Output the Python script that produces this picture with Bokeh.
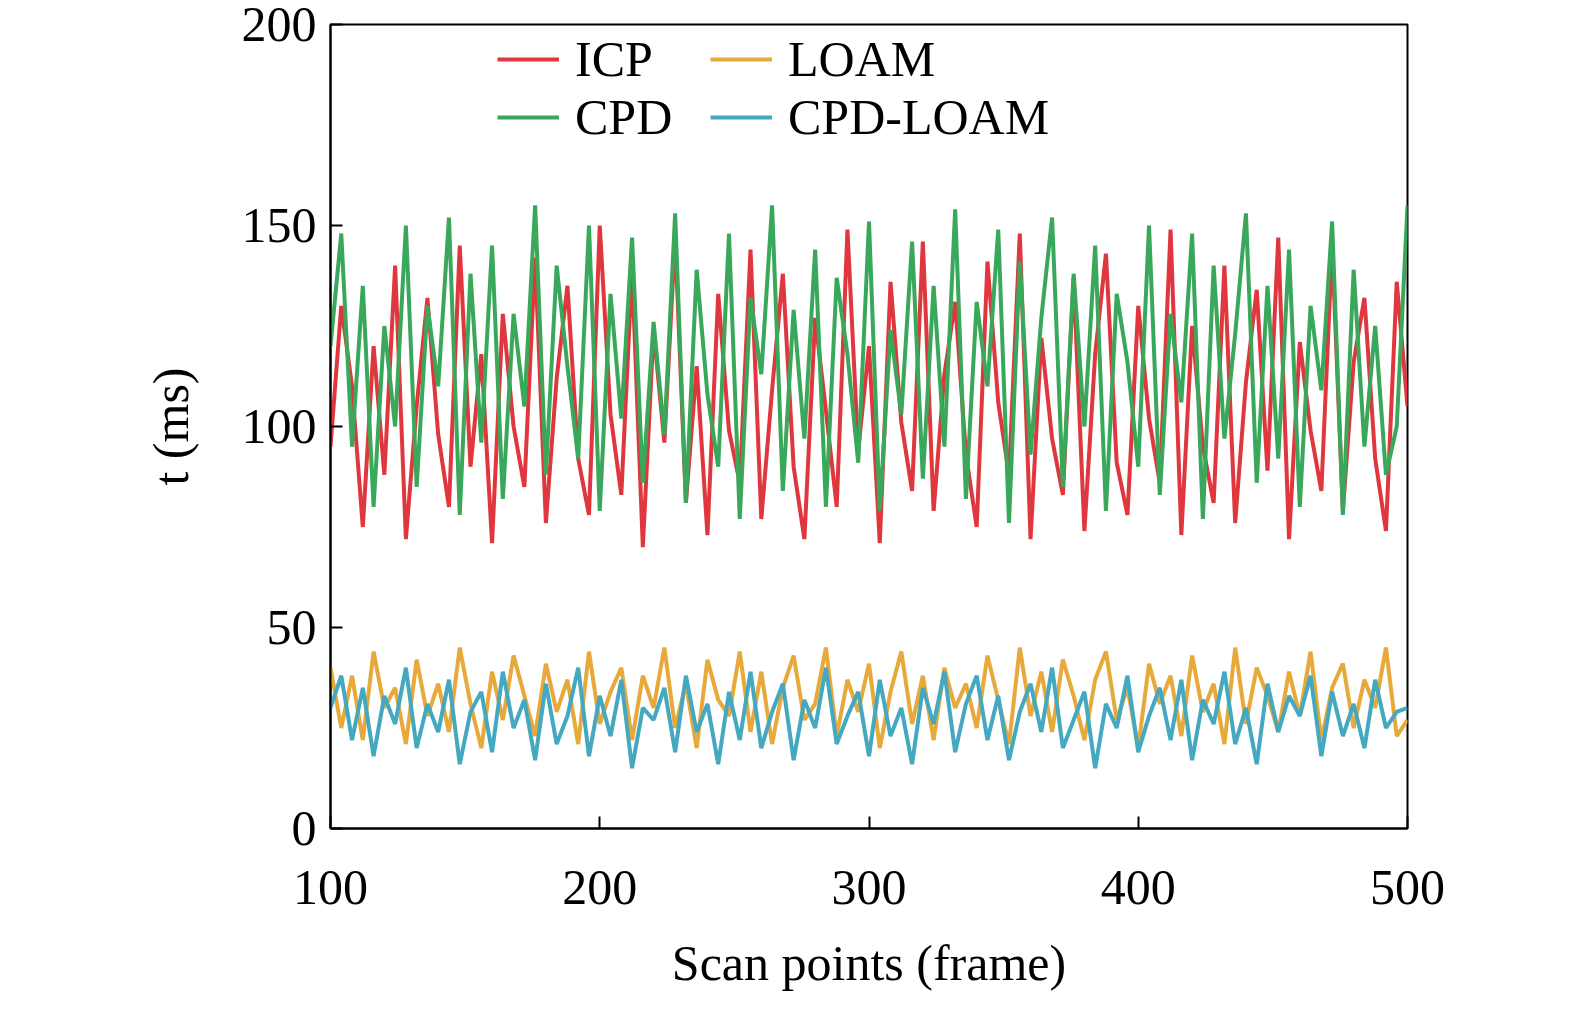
from bokeh.plotting import figure
from bokeh.models import Legend, LegendItem, Range1d, FixedTicker
from bokeh.embed import file_html
from bokeh.resources import INLINE

frames = list(range(100, 501, 4))
icp = [95,130,110,75,120,88,140,72,105,132,
       98,80,145,90,118,71,128,100,85,142,
       76,112,135,92,78,150,103,83,139,70,
       124,96,147,81,115,73,133,99,86,144,
       77,109,138,90,72,127,104,80,149,94,
       120,71,136,101,84,146,79,113,131,93,
       75,141,106,88,148,72,122,97,83,137,
       74,118,143,91,78,130,102,86,149,73,
       125,95,81,140,76,111,134,89,147,72,
       121,99,84,145,79,116,132,92,74,136,105]
cpd = [120,148,95,135,80,125,100,150,85,130,
       110,152,78,138,96,145,82,128,105,155,
       88,140,115,92,150,79,133,102,147,86,
       126,98,153,81,139,108,90,148,77,132,
       113,155,84,129,97,144,80,137,118,91,
       151,79,124,103,146,87,135,95,154,82,
       131,110,149,76,141,93,127,152,85,138,
       100,145,79,133,116,90,150,83,128,106,
       148,77,140,97,123,153,86,135,92,144,
       80,130,109,151,78,139,95,125,88,100,155]
loam = [40,25,38,22,44,30,35,21,42,28,
        36,24,45,31,20,39,27,43,33,23,
        41,29,37,21,44,26,34,40,22,38,
        30,45,25,36,20,42,32,28,44,24,
        39,21,35,43,27,31,45,23,37,29,
        41,20,34,44,26,38,22,40,30,36,
        25,43,32,21,45,28,39,24,42,33,
        22,37,44,27,35,20,41,31,38,23,
        43,29,36,21,45,26,40,33,24,39,
        28,44,22,35,41,25,37,30,45,23,27]
cpdloam = [30,38,22,35,18,33,26,40,20,31,
           24,37,16,29,34,19,39,25,32,17,
           36,21,28,40,18,33,23,37,15,30,
           27,35,19,38,24,31,16,34,22,39,
           20,29,36,17,32,25,40,21,28,34,
           18,37,23,30,16,35,26,39,19,31,
           38,22,33,17,29,36,24,40,20,27,
           34,15,31,25,38,19,28,35,22,37,
           17,32,26,39,21,30,16,36,24,33,
           28,38,18,34,23,31,20,37,25,29,30]

FONT = "Liberation Serif"
p = figure(width=1545, height=1000, output_backend="svg", toolbar_location=None,
           x_range=Range1d(100, 500), y_range=Range1d(0, 200),
           min_border_left=330, min_border_right=138, min_border_top=24, min_border_bottom=172)
p.grid.visible = False
p.outline_line_color = "black"
p.outline_line_width = 2

r_icp = p.line(frames, icp, line_color="#e0363e", line_width=4)
r_cpd = p.line(frames, cpd, line_color="#3aa85a", line_width=4)
r_loam = p.line(frames, loam, line_color="#e6a93a", line_width=4)
r_cl = p.line(frames, cpdloam, line_color="#44a8c0", line_width=4)

for ax in (p.xaxis[0], p.yaxis[0]):
    ax.major_label_text_font = FONT
    ax.major_label_text_font_size = "50px"
    ax.major_label_text_color = "black"
    ax.axis_label_text_font = FONT
    ax.axis_label_text_font_size = "50px"
    ax.axis_label_text_font_style = "normal"
    ax.axis_label_text_color = "black"
    ax.major_tick_in = 12
    ax.major_tick_out = 0
    ax.minor_tick_line_color = None
    ax.axis_line_width = 2
    ax.major_tick_line_width = 2
p.xaxis.ticker = FixedTicker(ticks=[100, 200, 300, 400, 500])
p.yaxis.ticker = FixedTicker(ticks=[0, 50, 100, 150, 200])
p.xaxis.axis_label = "Scan points (frame)"
p.yaxis.axis_label = "t (ms)"
p.xaxis.major_label_standoff = 42
p.xaxis.axis_label_standoff = 28
p.yaxis.major_label_standoff = 14
p.yaxis.axis_label_standoff = 40

legend = Legend(items=[LegendItem(label="ICP", renderers=[r_icp]),
                       LegendItem(label="CPD", renderers=[r_cpd]),
                       LegendItem(label="LOAM", renderers=[r_loam]),
                       LegendItem(label="CPD-LOAM", renderers=[r_cl])],
                ncols=2, location=(167, 682), orientation="vertical",
                label_text_font=FONT, label_text_font_size="50px", label_text_color="black",
                glyph_width=62, glyph_height=46, label_height=46, label_width=135, spacing=0,
                label_standoff=16, border_line_color=None, background_fill_alpha=0,
                padding=0, margin=0)
p.add_layout(legend, "center")

open("out.html", "w").write(file_html(p, INLINE))
